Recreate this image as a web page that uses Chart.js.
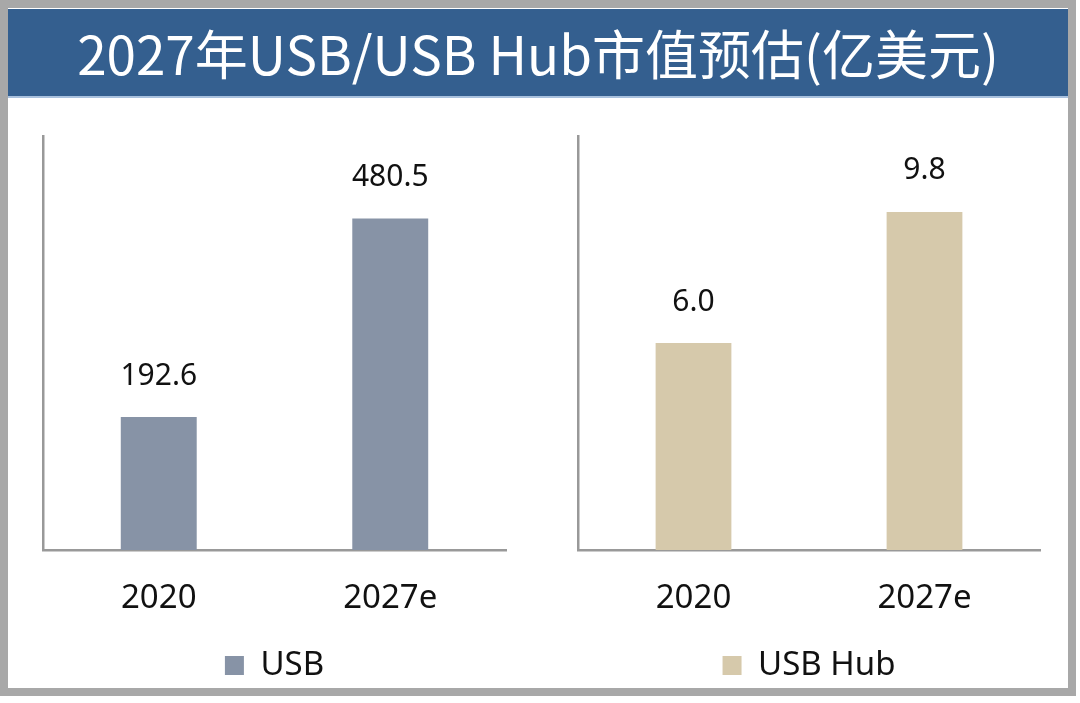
<!DOCTYPE html>
<html>
<head>
<meta charset="utf-8">
<script src="https://cdn.jsdelivr.net/npm/chart.js@4"></script>
<style>
  body { margin: 0; background: #fff; overflow: hidden; width: 1080px; height: 703px; position: relative; }
  #frame { position: absolute; left: 0; top: 0; width: 1060px; height: 680px; border: 8px solid #a8a8a8; background: #fff; }
  #title { position: absolute; left: 8px; top: 9px; width: 1060px; height: 87px; background: #345f8f;
    border-bottom: 2px solid #a9c1de; color: #fff; font-family: "Noto Sans CJK SC", "Noto Sans", sans-serif;
    font-size: 53px; line-height: 87px; text-align: center; }
  .box { position: absolute; top: 100px; height: 592px; }
  #left { left: 10px; width: 530px; }
  #right { left: 545px; width: 530px; }
</style>
</head>
<body>
<div id="frame"></div>
<div id="title">2027年USB/USB Hub市值预估(亿美元)</div>
<div class="box" id="left"><canvas id="usbChart"></canvas></div>
<div class="box" id="right"><canvas id="hubChart"></canvas></div>
<script>
const years = ["2020", "2027e"];
const usbValues = [192.6, 480.5];
const hubValues = [6.0, 9.8];
const usbLabels = ["192.6", "480.5"];
const hubLabels = ["6.0", "9.8"];

const FONT = "'Noto Sans', 'Open Sans', sans-serif";

// draws the value above each bar
const valueLabels = {
  id: "valueLabels",
  afterDatasetsDraw(chart, args, opts) {
    const ctx = chart.ctx;
    const meta = chart.getDatasetMeta(0);
    ctx.save();
    ctx.font = "30px " + FONT;
    ctx.fillStyle = "#111";
    ctx.textAlign = "center";
    ctx.textBaseline = "middle";
    meta.data.forEach((bar, i) => {
      ctx.fillText(opts.texts[i], bar.x, bar.y - 41);
    });
    ctx.restore();
  }
};

function makeChart(id, label, values, texts, color, max, padLeft, padRight) {
  new Chart(document.getElementById(id), {
    type: "bar",
    data: {
      labels: years,
      datasets: [{
        label: label,
        data: values,
        backgroundColor: color,
        barPercentage: 0.328,
        categoryPercentage: 1
      }]
    },
    options: {
      responsive: true,
      maintainAspectRatio: false,
      animation: false,
      layout: { padding: { top: 36, left: padLeft, right: padRight, bottom: 0 } },
      scales: {
        x: {
          grid: { display: false, drawTicks: false },
          border: { display: true, color: "#999", width: 2.5 },
          ticks: { color: "#111", font: { family: FONT, size: 33 }, padding: 29 },
          afterFit(scale) { scale.height = 89; }
        },
        y: {
          min: 0,
          max: max,
          grid: { display: false, drawTicks: false },
          border: { display: true, color: "#999", width: 2.5 },
          ticks: { display: false }
        }
      },
      plugins: {
        legend: {
          position: "bottom",
          labels: {
            boxWidth: 19,
            boxHeight: 19,
            color: "#111",
            padding: 10,
            font: { family: FONT, size: 33 }
          }
        },
        tooltip: { enabled: false },
        valueLabels: { texts: texts }
      }
    },
    plugins: [valueLabels]
  });
}

makeChart("usbChart", "USB", usbValues, usbLabels, "#8793a6", 600, 33, 34);
makeChart("hubChart", "USB Hub", hubValues, hubLabels, "#d6c9ab", 12, 33, 35);
</script>
</body>
</html>
